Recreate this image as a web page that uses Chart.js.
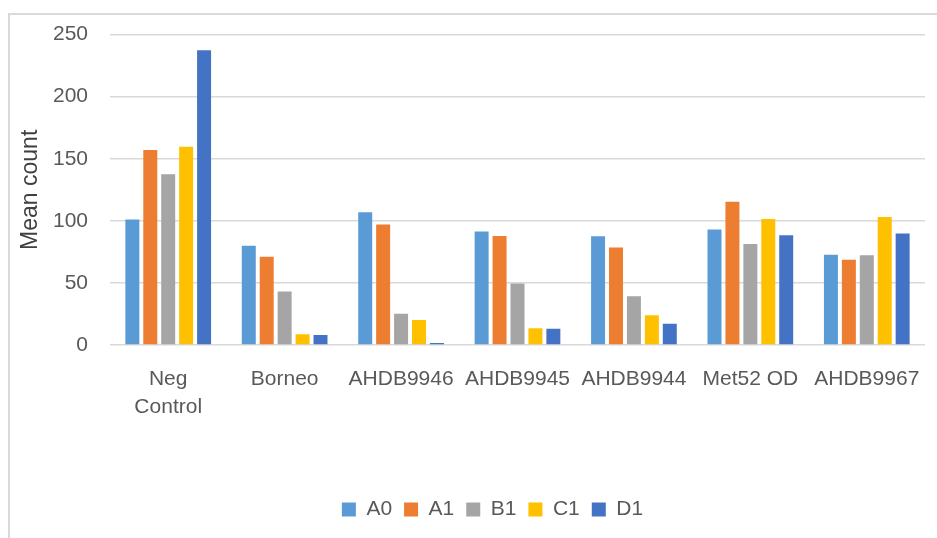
<!DOCTYPE html>
<html>
<head>
<meta charset="utf-8">
<script src="https://cdn.jsdelivr.net/npm/chart.js@4"></script>
<style>
  html, body { margin: 0; padding: 0; background: #fff; overflow: hidden; }
  #frame { position: absolute; left: 8px; top: 13px; width: 1000px; height: 600px; border: 2px solid #d9d9d9; }
  #wrap { position: absolute; left: 0; top: 0; width: 937px; height: 538px; }
</style>
</head>
<body>
<div id="frame"></div>
<div id="wrap"><canvas id="chart"></canvas></div>
<script>
// Categorias y series
const categories = [['Neg', 'Control'], 'Borneo', 'AHDB9946', 'AHDB9945', 'AHDB9944', 'Met52 OD', 'AHDB9967'];
const seriesNames = ['A0', 'A1', 'B1', 'C1', 'D1'];
const a0 = [101, 80, 107, 91.5, 87.5, 93, 72.7];
const a1 = [157, 71, 97, 87.7, 78.6, 115.3, 68.7];
const b1 = [137.6, 43, 25.2, 49.6, 39.2, 81.3, 72.2];
const c1 = [159.6, 8.6, 20.1, 13.4, 23.9, 101.4, 103];
const d1 = [237.4, 8, 1.6, 13.1, 17.2, 88.3, 89.9];
const yTicks = [0, 50, 100, 150, 200, 250];

const colors = ['#5B9BD5', '#ED7D31', '#A5A5A5', '#FFC000', '#4472C4'];
const values = [a0, a1, b1, c1, d1];
const font = 'Liberation Sans, Arial, sans-serif';

// Desplaza la leyenda un poco a la derecha, como en el original
const shiftLegend = {
    id: 'shiftLegend',
    afterLayout(chart) {
        chart.legend.left += 30;
        chart.legend.right += 30;
    }
};

new Chart(document.getElementById('chart'), {
    type: 'bar',
    data: {
        labels: categories,
        datasets: seriesNames.map((name, i) => ({
            label: name,
            data: values[i],
            backgroundColor: colors[i],
            borderWidth: 0,
            categoryPercentage: 0.77,
            barPercentage: 0.78
        }))
    },
    options: {
        responsive: true,
        maintainAspectRatio: false,
        animation: false,
        layout: { padding: { top: 33, right: 12, left: 0, bottom: 8 } },
        plugins: {
            legend: {
                position: 'bottom',
                labels: {
                    boxWidth: 14,
                    boxHeight: 14,
                    padding: 12,
                    color: '#595959',
                    font: { family: font, size: 21 }
                }
            },
            tooltip: { enabled: false }
        },
        scales: {
            x: {
                grid: { display: false, drawTicks: false },
                border: { display: false },
                ticks: {
                    color: '#595959',
                    padding: 21,
                    maxRotation: 0,
                    autoSkip: false,
                    font: { family: font, size: 21, lineHeight: 1.3 }
                },
                afterFit: (scale) => {
                    scale.height = 142;
                    scale.paddingLeft = 0;
                    scale.paddingRight = 0;
                }
            },
            y: {
                min: 0,
                max: 250,
                afterBuildTicks: (scale) => { scale.ticks = yTicks.map(v => ({ value: v })); },
                grid: { color: '#d9d9d9', lineWidth: 1.5, drawTicks: false },
                border: { display: false },
                ticks: {
                    color: '#595959',
                    padding: 22,
                    font: { family: font, size: 21 }
                },
                title: {
                    display: true,
                    text: 'Mean count',
                    color: '#404040',
                    padding: { top: 17, bottom: 0 },
                    font: { family: font, size: 23 }
                },
                afterFit: (scale) => { scale.width = 110; }
            }
        }
    },
    plugins: [shiftLegend]
});
</script>
</body>
</html>
